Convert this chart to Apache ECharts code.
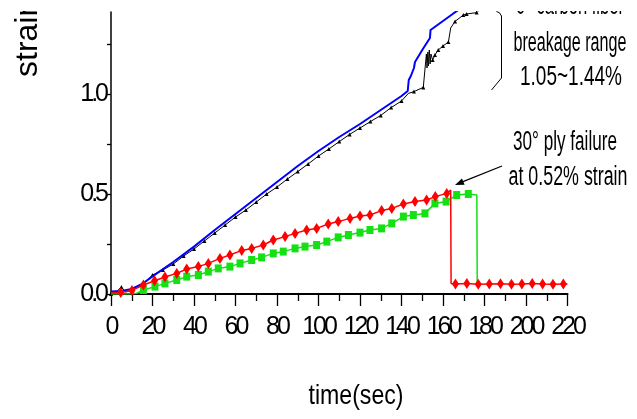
<!DOCTYPE html>
<html><head><meta charset="utf-8">
<script src="https://cdn.jsdelivr.net/npm/echarts@6/dist/echarts.min.js"></script>
<style>html,body{margin:0;padding:0;background:#fff}#c{width:637px;height:419px}</style>
</head><body><div id="c"></div>
<script>
// ---- data (time in s, strain in %) ----
const blueT = [0, 5, 10, 15, 20, 30, 40, 50, 60, 70, 80, 90, 100, 110, 120, 130, 140, 143, 143.5, 144.5, 146, 146.5, 150, 153.7, 154, 160, 164, 170];
const blueS = [0.012, 0.015, 0.025, 0.05, 0.088, 0.16, 0.237, 0.32, 0.40, 0.48, 0.56, 0.64, 0.715, 0.785, 0.85, 0.92, 0.99, 1.015, 1.07, 1.09, 1.13, 1.16, 1.22, 1.28, 1.32, 1.365, 1.395, 1.44];

const blackT = [0, 2, 5, 7, 10, 12, 15, 20, 25, 30, 35, 40, 45, 50, 55, 60, 65, 70, 75, 80, 85, 90, 95, 100, 105, 110, 115, 120, 125, 130, 135, 140, 143.3, 146, 150.5, 151, 151.5, 152, 152.3, 152.7, 153, 153.4, 153.8, 154.2, 155, 156.1, 157.7, 160, 162.6, 163.7, 165.8, 169.8, 171.4, 176.2, 180];
const blackS = [0.0, 0.005, 0.035, 0.01, 0.02, 0.035, 0.045, 0.095, 0.12, 0.15, 0.19, 0.225, 0.265, 0.305, 0.345, 0.385, 0.42, 0.46, 0.5, 0.535, 0.575, 0.612, 0.65, 0.69, 0.725, 0.762, 0.798, 0.83, 0.862, 0.893, 0.932, 0.965, 1.003, 1.012, 1.033, 1.04, 1.145, 1.2, 1.13, 1.21, 1.14, 1.22, 1.15, 1.2, 1.17, 1.195, 1.22, 1.24, 1.26, 1.33, 1.363, 1.395, 1.40, 1.407, 1.44];
const blackNoMark = [2, 7, 12, 143.3, 151, 151.5, 152, 152.3, 152.7, 153, 153.4, 153.8, 154.2, 163.7, 180];

const redT = [0, 4.7, 10.1, 15.6, 21, 26, 31.7, 36.5, 42.1, 46.9, 52.5, 57.3, 63, 67.8, 73.4, 78.2, 83.9, 88.7, 94.3, 99.1, 104.7, 109.5, 115.2, 120, 124.8, 130.4, 135.3, 140.9, 146.5, 152.1, 156.3, 161.8, 163.7, 163.9, 166, 171.5, 177, 182.3, 187.7, 193, 198, 203, 208, 213, 218, 220];
const redS = [0.005, 0.008, 0.018, 0.045, 0.066, 0.085, 0.103, 0.125, 0.137, 0.153, 0.178, 0.195, 0.218, 0.228, 0.245, 0.27, 0.287, 0.303, 0.32, 0.328, 0.35, 0.362, 0.378, 0.39, 0.395, 0.417, 0.428, 0.45, 0.462, 0.47, 0.487, 0.503, 0.52, 0.053, 0.05, 0.052, 0.049, 0.05, 0.051, 0.049, 0.05, 0.052, 0.05, 0.049, 0.05, 0.05];
const redNoMark = [0, 163.7, 163.9, 220];

const greenT = [0, 5, 10, 12.4, 15.6, 21.2, 26, 31.7, 36.5, 42.1, 46.9, 51.7, 57.3, 62.2, 67.8, 72.6, 78.2, 83, 88.7, 93.5, 99.1, 104, 109.5, 114.4, 120, 124.8, 130.4, 135.3, 140.9, 145.7, 151.3, 156.1, 161.5, 166.6, 172.2, 176.3, 176.5];
const greenS = [0, 0, 0.001, 0.004, 0.02, 0.037, 0.053, 0.07, 0.087, 0.095, 0.112, 0.128, 0.137, 0.153, 0.17, 0.183, 0.203, 0.212, 0.228, 0.237, 0.245, 0.262, 0.283, 0.295, 0.307, 0.32, 0.328, 0.353, 0.387, 0.395, 0.403, 0.453, 0.462, 0.495, 0.50, 0.495, 0.05];
const greenNoMark = [0, 5, 10, 12.4, 176.3, 176.5];

const yLabelValues = [0, 0.5, 1.0];
const yTickValues = [0, 0.25, 0.5, 0.75, 1.0, 1.25];

// ---- condensed look of the reference's tick labels (tight letter spacing),
//      applied to drawing and to measuring so label layout stays consistent ----
(function () {
  const proto = CanvasRenderingContext2D.prototype;
  const spacing = ctx => /(^|\s)25px/.test(ctx.font) ? '-3px' : '0px';
  const origFill = proto.fillText;
  const origMeasure = proto.measureText;
  proto.fillText = function (t, x, y, mw) {
    if ('letterSpacing' in this) this.letterSpacing = spacing(this);
    return mw === undefined ? origFill.call(this, t, x, y) : origFill.call(this, t, x, y, mw);
  };
  proto.measureText = function (t) {
    if ('letterSpacing' in this) this.letterSpacing = spacing(this);
    return origMeasure.call(this, t);
  };
})();

// ---- helpers ----
function pts(T, S, noMark) {
  return T.map((t, i) => noMark && noMark.indexOf(t) >= 0
    ? { value: [t, S[i]], symbol: 'none' }
    : { value: [t, S[i]] });
}
const FONT = "'Liberation Sans', Arial, sans-serif";
const mctx = document.createElement('canvas').getContext('2d');
function fitScale(text, font, target) {
  mctx.font = font;
  return target / mctx.measureText(text).width;
}
function label(text, x, y, size, target) {
  const font = size + 'px ' + FONT;
  return {
    type: 'text', x: x, y: y, z: 50,
    scaleX: target ? fitScale(text, font, target) : 1,
    style: { text: text, font: font, fill: '#000', align: 'center', verticalAlign: 'middle' }
  };
}

const chart = echarts.init(document.getElementById('c'), null, { renderer: 'canvas' });
chart.setOption({
  animation: false,
  backgroundColor: '#fff',
  grid: { left: 111, right: 69.5, top: 12, bottom: 125, containLabel: false },
  xAxis: {
    type: 'value', min: 0, max: 220, interval: 20,
    axisLine: { show: true, onZero: false, lineStyle: { color: '#000', width: 2 } },
    axisTick: { show: true, inside: false, length: 12, lineStyle: { color: '#000', width: 1.3 } },
    minorTick: { show: true, splitNumber: 2, length: 7, lineStyle: { color: '#000', width: 1.3 } },
    splitLine: { show: false },
    axisLabel: { color: '#000', fontFamily: FONT, fontSize: 25, margin: 22,
      showMinLabel: true, showMaxLabel: true, hideOverlap: false }
  },
  yAxis: {
    type: 'value', min: 0, max: 1.41,
    axisLine: { show: true, lineStyle: { color: '#000', width: 1.5 } },
    axisTick: { show: true, length: 4, customValues: yTickValues, lineStyle: { color: '#000', width: 1.3 } },
    splitLine: { show: false },
    axisLabel: { color: '#000', fontFamily: FONT, fontSize: 25, margin: 5,
      customValues: yLabelValues, formatter: v => v.toFixed(1) }
  },
  series: [
    { type: 'line', data: pts(blackT, blackS, blackNoMark), symbol: 'triangle', symbolSize: 4,
      lineStyle: { color: '#000', width: 1 }, itemStyle: { color: '#000' }, clip: true, z: 2 },
    { type: 'line', data: pts(blueT, blueS), showSymbol: false, symbol: 'none',
      lineStyle: { color: '#0000ff', width: 2 }, itemStyle: { color: '#0000ff' }, clip: true, z: 3 },
    { type: 'line', data: pts(greenT, greenS, greenNoMark), symbol: 'rect', symbolSize: [7, 8],
      lineStyle: { color: '#14e014', width: 1.5 }, itemStyle: { color: '#14e014' }, clip: true, z: 4 },
    { type: 'line', data: pts(redT, redS, redNoMark), symbol: 'diamond', symbolSize: [7, 11],
      lineStyle: { color: '#ff0000', width: 1.5 }, itemStyle: { color: '#ff0000' }, clip: true, z: 5 }
  ],
  graphic: [
    // y axis title (rotated)
    { type: 'text', x: 28, y: 77, rotation: Math.PI / 2, z: 50,
      style: { text: 'strain', font: '32px ' + FONT, fill: '#000', align: 'left', verticalAlign: 'middle' } },
    // x axis title
    label('time(sec)', 356, 396, 28, 95),
    // annotations
    label('0° carbon fiber', 570, 7, 27, 108),
    label('breakage range', 570, 44, 27, 113),
    label('1.05~1.44%', 571, 78, 27, 102),
    label('30° ply failure', 565, 143, 27, 104),
    label('at 0.52% strain', 568, 178, 27, 119),
    // bracket
    { type: 'polyline', z: 50, shape: { points: [[496.5, 11.5], [499.5, 12.8], [501.5, 16], [501.5, 78], [491.5, 90]] },
      style: { stroke: '#000', lineWidth: 1, fill: null } },
    // arrow
    { type: 'line', z: 50, shape: { x1: 502, y1: 166, x2: 463, y2: 181.6 }, style: { stroke: '#000', lineWidth: 1.3 } },
    { type: 'polygon', z: 50, shape: { points: [[455, 185], [464.6, 184.8], [462, 178.4]] }, style: { fill: '#000' } },
    // the reference is cropped a little below its top edge
    { type: 'rect', z: 100, shape: { x: 0, y: 0, width: 637, height: 11 }, style: { fill: '#fff' } }
  ]
});
</script>
</body></html>
